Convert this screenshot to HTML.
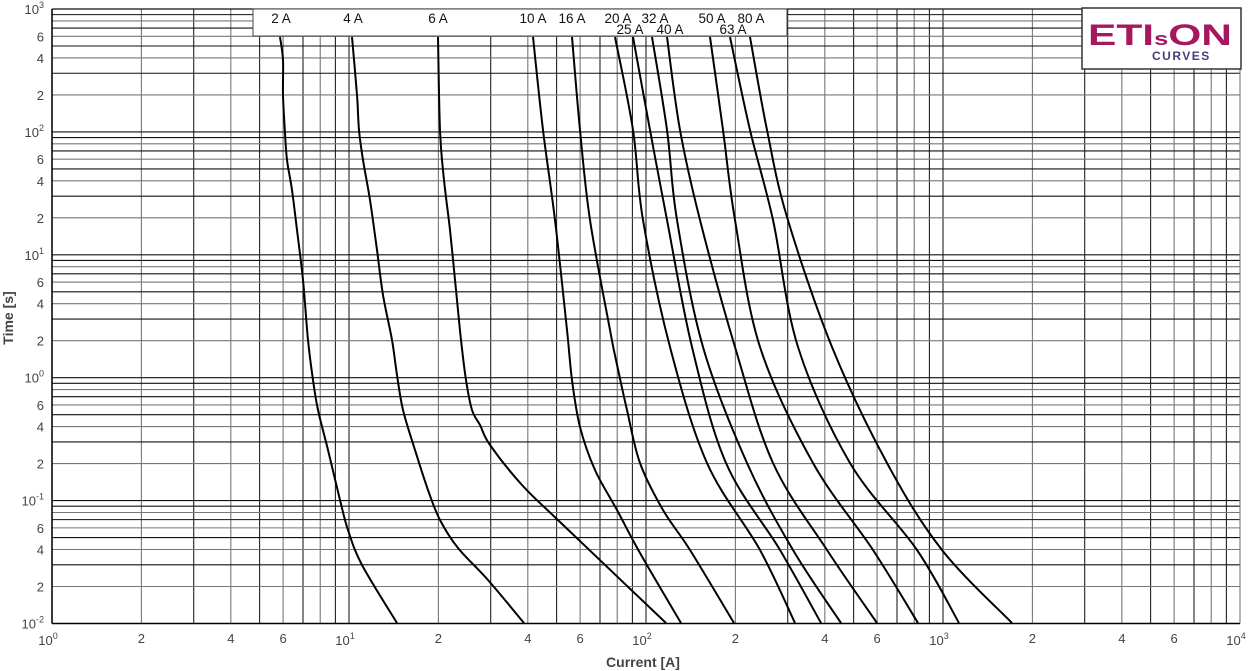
<!DOCTYPE html>
<html><head><meta charset="utf-8"><style>
html,body{margin:0;padding:0;background:#fff;width:1251px;height:671px;overflow:hidden}
svg{display:block;font-family:"Liberation Sans",sans-serif}
</style></head><body>
<svg id="s" width="1251" height="671" xmlns="http://www.w3.org/2000/svg"></svg>
<script>
const s=document.getElementById('s');
const X0=52,DX=297,Y0=623.5,DY=122.9;
let h='';
const lx=v=>X0+Math.log10(v)*DX, ly=v=>Y0-(Math.log10(v)+2)*DY;
for(let d=0;d<4;d++)for(let m=1;m<10;m++){const x=lx(m*Math.pow(10,d));h+=`<line x1="${x}" y1="9" x2="${x}" y2="${Y0}" stroke="${m%2?'#222':'#777'}" stroke-width="1.1"/>`;}
for(let d=-2;d<3;d++)for(let m=1;m<10;m++){const y=ly(m*Math.pow(10,d));h+=`<line x1="${X0}" y1="${y}" x2="1240" y2="${y}" stroke="${m%2?'#111':'#777'}" stroke-width="1.1"/>`;}
h+=`<line x1="${X0}" y1="9" x2="1240" y2="9" stroke="#111" stroke-width="1.2"/>`;
h+=`<line x1="1240" y1="9" x2="1240" y2="${Y0}" stroke="#777" stroke-width="1.1"/>`;
h+=`<line x1="${X0}" y1="${Y0}" x2="1240" y2="${Y0}" stroke="#000" stroke-width="1.5"/>`;
h+=`<line x1="${X0}" y1="9" x2="${X0}" y2="${Y0}" stroke="#000" stroke-width="1.5"/>`;
for(let d=-2;d<=3;d++){const y=ly(Math.pow(10,d));h+=`<text x="44" y="${y+5}" font-size="13" fill="#444" text-anchor="end">10<tspan dy="-6" font-size="9">${d}</tspan></text>`;
 if(d<3)[2,4,6].forEach(m=>{h+=`<text x="44" y="${ly(m*Math.pow(10,d))+5}" font-size="13" fill="#444" text-anchor="end">${m}</text>`;});}
for(let d=0;d<=4;d++){const x=lx(Math.pow(10,d));h+=`<text x="${x-4}" y="645" font-size="13" fill="#444" text-anchor="middle">10<tspan dy="-6" font-size="9">${d}</tspan></text>`;
 if(d<4)[2,4,6].forEach(m=>{h+=`<text x="${lx(m*Math.pow(10,d))}" y="643" font-size="13" fill="#444" text-anchor="middle">${m}</text>`;});}
h+=`<text x="643" y="667" font-size="14" font-weight="bold" fill="#444" text-anchor="middle">Current [A]</text>`;
h+=`<text transform="translate(13,318) rotate(-90)" font-size="14" font-weight="bold" fill="#444" text-anchor="middle">Time [s]</text>`;
const C=[
[[280,37],[283,60],[283,95],[285,133],[287,160],[292,190],[297,230],[303,280],[308,340],[313,380],[318,410],[328,450],[340,500],[348,530],[362,565],[397,623]],
[[352,37],[357,95],[359,130],[363,160],[370,200],[377,250],[383,295],[392,340],[397,375],[403,410],[415,450],[428,490],[440,520],[458,548],[488,580],[524,623]],
[[438,37],[440,130],[444,180],[450,230],[456,290],[461,340],[466,380],[472,410],[480,425],[490,445],[522,485],[560,522],[666,623]],
[[533,37],[543,130],[555,220],[567,330],[572,380],[580,427],[595,470],[617,510],[640,553],[681,623]],
[[572,37],[580,130],[590,220],[610,330],[616,360],[627,410],[640,463],[663,510],[690,550],[734,623]],
[[615,37],[633,130],[643,220],[670,347],[707,463],[760,550],[795,623]],
[[633,37],[650,130],[667,220],[692,347],[726,463],[780,550],[821,623]],
[[652,37],[667,130],[677,220],[703,347],[747,463],[793,550],[841,623]],
[[667,37],[680,130],[700,220],[735,347],[773,463],[827,550],[877,623]],
[[710,37],[723,130],[735,220],[760,347],[813,463],[873,550],[918,623]],
[[730,37],[750,130],[773,220],[798,347],[850,463],[917,550],[959,623]],
[[750,37],[767,130],[787,217],[832,347],[887,463],[942,550],[1012,623]]];
C.forEach(p=>{let d='M'+p[0].join(',');for(let i=1;i<p.length;i++){const a=p[i-1],b=p[i],pp=p[i-2]||a,n=p[i+1]||b;const c1=[a[0]+(b[0]-pp[0])/6,a[1]+(b[1]-pp[1])/6],c2=[b[0]-(n[0]-a[0])/6,b[1]-(n[1]-a[1])/6];d+=`C${c1.join(',')} ${c2.join(',')} ${b.join(',')}`;}
h+=`<path d="${d}" fill="none" stroke="#000" stroke-width="2"/>`;});
h+=`<rect x="253" y="9" width="534" height="27" fill="#fff" stroke="#444" stroke-width="1"/>`;
[['2 A',281,23],['4 A',353,23],['6 A',438,23],['10 A',533,23],['16 A',572,23],['20 A',618,23],['32 A',655,23],['50 A',712,23],['80 A',751,23],['25 A',630,34],['40 A',670,34],['63 A',733,34]].forEach(t=>{h+=`<text x="${t[1]}" y="${t[2]}" font-size="13.5" fill="#111" text-anchor="middle">${t[0]}</text>`;});
h+=`<rect x="1082" y="8" width="159" height="61" fill="#fff" stroke="#333" stroke-width="1.5"/>`;
h+=`<text x="1088" y="45" font-size="30" font-weight="bold" fill="#a5185f" textLength="144" lengthAdjust="spacingAndGlyphs">ETI<tspan font-size="18">s</tspan>ON</text>`;
h+=`<text x="1152" y="60" font-size="12" font-weight="bold" fill="#4a3a80" letter-spacing="1.5">CURVES</text>`;
s.innerHTML=h;
</script>
</body></html>
